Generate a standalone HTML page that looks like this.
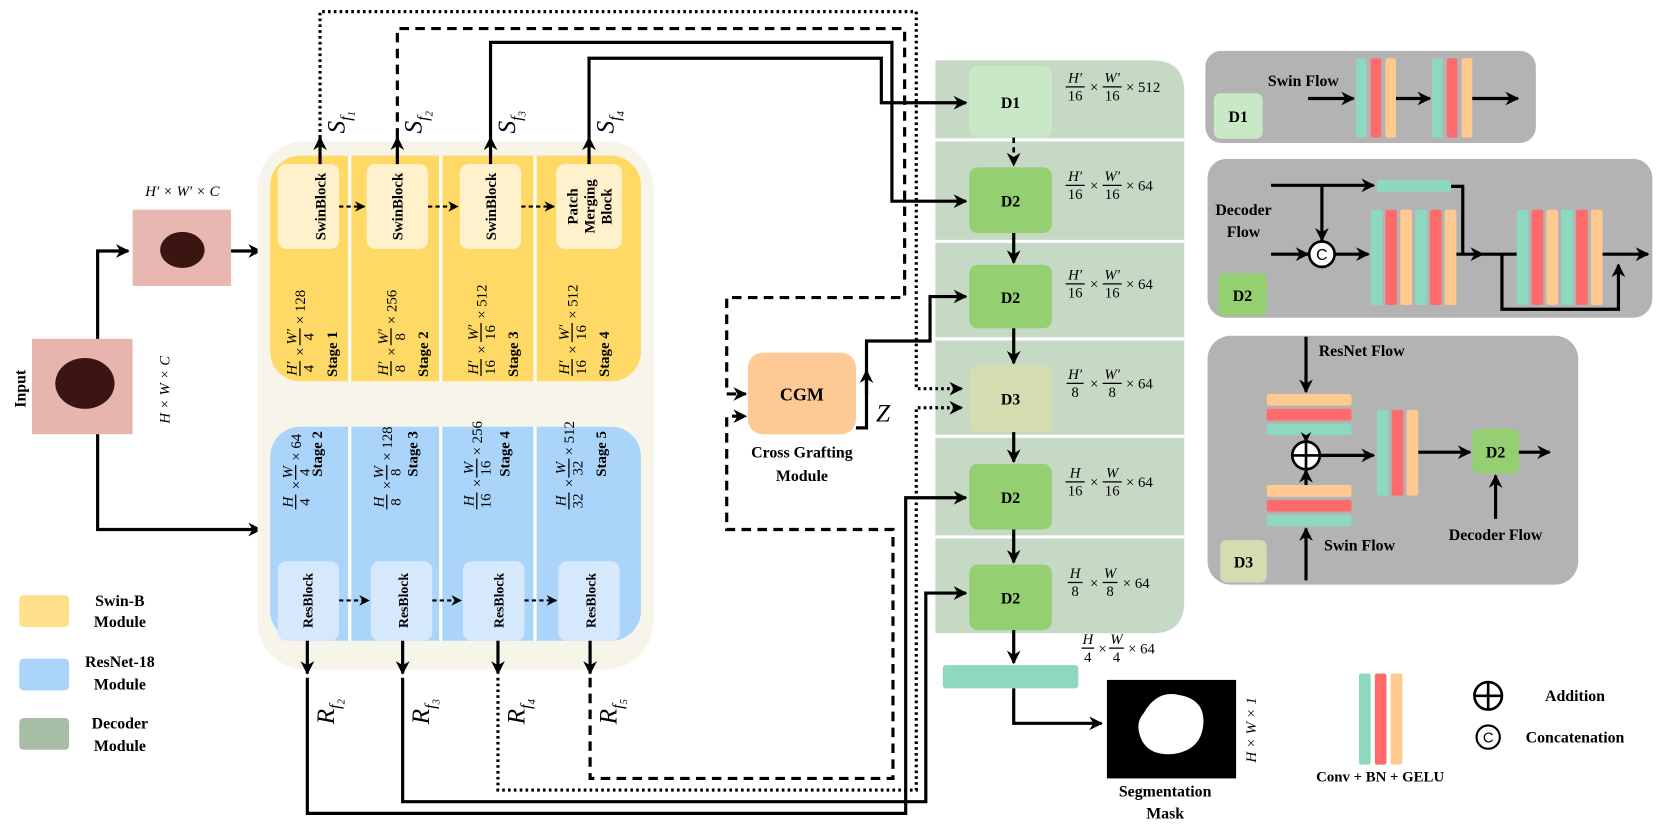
<!DOCTYPE html>
<html><head><meta charset="utf-8"><style>
html,body{margin:0;padding:0;background:#fff;}
svg{display:block;}
text{font-family:"Liberation Serif",serif;fill:#000;}
.b{font-weight:bold;}
.i{font-style:italic;}
.f{font-size:14px;}
.ln{stroke:#000;stroke-width:3;fill:none;}
.dt{stroke:#000;stroke-width:3;fill:none;stroke-dasharray:2.5 3;}
.ds{stroke:#000;stroke-width:3;fill:none;stroke-dasharray:9 6;}
.fl{stroke:#000;stroke-width:1.2;}
</style></head><body>
<svg width="1661" height="825" viewBox="0 0 1568 779" xmlns="http://www.w3.org/2000/svg">
<defs>
<marker id="a" viewBox="0 0 10 10" refX="9" refY="5" markerWidth="15" markerHeight="13" markerUnits="userSpaceOnUse" orient="auto"><path d="M0,0 L10,5 L0,10 L3,5z" fill="#000"/></marker>
<marker id="s" viewBox="0 0 10 10" refX="9" refY="5" markerWidth="11" markerHeight="10" markerUnits="userSpaceOnUse" orient="auto"><path d="M0,0 L10,5 L0,10 L3,5z" fill="#000"/></marker>
</defs>

<!-- input images -->
<rect x="30" y="320" width="95" height="90" fill="#e7b4ae"/>
<ellipse cx="80" cy="362" rx="28" ry="24" fill="#3b1511"/>
<rect x="125" y="198" width="93" height="72" fill="#e8b7b2"/>
<ellipse cx="172" cy="236" rx="21" ry="17" fill="#3b1511"/>
<text class="b" font-size="15" transform="translate(24,385) rotate(-90)">Input</text>
<text class="i" font-size="14" transform="translate(160,400) rotate(-90)">H × W × C</text>
<text class="i" font-size="14" x="172" y="185" text-anchor="middle">H′ × W′ × C</text>
<path class="ln" d="M92,320 V237 H121" marker-end="url(#a)"/>
<path class="ln" d="M218,237 H246" marker-end="url(#a)"/>
<path class="ln" d="M92,410 V500 H246" marker-end="url(#a)"/>

<!-- encoder -->
<rect x="243" y="133" width="374" height="499" rx="45" fill="#f7f4ea"/>
<rect x="255" y="147" width="350" height="213" rx="28" fill="#ffd966"/>
<rect x="255" y="403" width="350" height="202" rx="28" fill="#aad4fa"/>
<g stroke="#fff" stroke-width="3">
<line x1="330" y1="147" x2="330" y2="360"/><line x1="416" y1="147" x2="416" y2="360"/><line x1="505" y1="147" x2="505" y2="360"/>
<line x1="330" y1="403" x2="330" y2="605"/><line x1="416" y1="403" x2="416" y2="605"/><line x1="505" y1="403" x2="505" y2="605"/>
</g>
<g fill="#fff1cc">
<rect x="262" y="155" width="58" height="80" rx="8"/><rect x="346" y="155" width="58" height="80" rx="8"/>
<rect x="434" y="155" width="58" height="80" rx="8"/><rect x="525" y="155" width="62" height="80" rx="8"/>
</g>
<g class="b" font-size="14" text-anchor="middle">
<text transform="translate(307,195) rotate(-90)">SwinBlock</text>
<text transform="translate(380,195) rotate(-90)">SwinBlock</text>
<text transform="translate(468,195) rotate(-90)">SwinBlock</text>
<text transform="translate(545,195) rotate(-90)">Patch</text>
<text transform="translate(561,195) rotate(-90)">Merging</text>
<text transform="translate(577,195) rotate(-90)">Block</text>
</g>
<path class="ds" style="stroke-width:2;stroke-dasharray:4 3" d="M320,195 H344" marker-end="url(#s)"/>
<path class="ds" style="stroke-width:2;stroke-dasharray:4 3" d="M404,195 H432" marker-end="url(#s)"/>
<path class="ds" style="stroke-width:2;stroke-dasharray:4 3" d="M492,195 H523" marker-end="url(#s)"/>
<g fill="#d6e8fb">
<rect x="262" y="530" width="58" height="75" rx="8"/><rect x="350" y="530" width="58" height="75" rx="8"/>
<rect x="437" y="530" width="58" height="75" rx="8"/><rect x="527" y="530" width="58" height="75" rx="8"/>
</g>
<g class="b" font-size="13" text-anchor="middle">
<text transform="translate(295,567) rotate(-90)">ResBlock</text>
<text transform="translate(385,567) rotate(-90)">ResBlock</text>
<text transform="translate(475,567) rotate(-90)">ResBlock</text>
<text transform="translate(562,567) rotate(-90)">ResBlock</text>
</g>
<path class="ds" style="stroke-width:2;stroke-dasharray:4 3" d="M320,567 H348" marker-end="url(#s)"/>
<path class="ds" style="stroke-width:2;stroke-dasharray:4 3" d="M408,567 H435" marker-end="url(#s)"/>
<path class="ds" style="stroke-width:2;stroke-dasharray:4 3" d="M495,567 H525" marker-end="url(#s)"/>

<!-- swin stage labels -->
<g transform="translate(266,356) rotate(-90)" class="f">
<text class="i" x="8" y="14" text-anchor="middle">H′</text><line class="fl" x1="1" x2="15" y1="17" y2="17"/><text x="8" y="30" text-anchor="middle">4</text>
<text x="20" y="22">×</text>
<text class="i" x="38" y="14" text-anchor="middle">W′</text><line class="fl" x1="30" x2="46" y1="17" y2="17"/><text x="38" y="30" text-anchor="middle">4</text>
<text x="50" y="22">× 128</text>
<text class="b" font-size="14" x="0" y="52">Stage 1</text>
</g>
<g transform="translate(352,356) rotate(-90)" class="f">
<text class="i" x="8" y="14" text-anchor="middle">H′</text><line class="fl" x1="1" x2="15" y1="17" y2="17"/><text x="8" y="30" text-anchor="middle">8</text>
<text x="20" y="22">×</text>
<text class="i" x="38" y="14" text-anchor="middle">W′</text><line class="fl" x1="30" x2="46" y1="17" y2="17"/><text x="38" y="30" text-anchor="middle">8</text>
<text x="50" y="22">× 256</text>
<text class="b" font-size="14" x="0" y="52">Stage 2</text>
</g>
<g transform="translate(437,356) rotate(-90)" class="f">
<text class="i" x="9" y="14" text-anchor="middle">H′</text><line class="fl" x1="1" x2="17" y1="17" y2="17"/><text x="9" y="30" text-anchor="middle">16</text>
<text x="22" y="22">×</text>
<text class="i" x="42" y="14" text-anchor="middle">W′</text><line class="fl" x1="33" x2="51" y1="17" y2="17"/><text x="42" y="30" text-anchor="middle">16</text>
<text x="55" y="22">× 512</text>
<text class="b" font-size="14" x="0" y="52">Stage 3</text>
</g>
<g transform="translate(523,356) rotate(-90)" class="f">
<text class="i" x="9" y="14" text-anchor="middle">H′</text><line class="fl" x1="1" x2="17" y1="17" y2="17"/><text x="9" y="30" text-anchor="middle">16</text>
<text x="22" y="22">×</text>
<text class="i" x="42" y="14" text-anchor="middle">W′</text><line class="fl" x1="33" x2="51" y1="17" y2="17"/><text x="42" y="30" text-anchor="middle">16</text>
<text x="55" y="22">× 512</text>
<text class="b" font-size="14" x="0" y="52">Stage 4</text>
</g>
<!-- resnet stage labels -->
<g transform="translate(262,482) rotate(-90)" class="f">
<text class="i" x="8" y="14" text-anchor="middle">H</text><line class="fl" x1="1" x2="15" y1="17" y2="17"/><text x="8" y="30" text-anchor="middle">4</text>
<text x="20" y="22">×</text>
<text class="i" x="36" y="14" text-anchor="middle">W</text><line class="fl" x1="29" x2="43" y1="17" y2="17"/><text x="36" y="30" text-anchor="middle">4</text>
<text x="47" y="22">× 64</text>
<text class="b" font-size="14" x="75" y="42" text-anchor="end">Stage 2</text>
</g>
<g transform="translate(348,482) rotate(-90)" class="f">
<text class="i" x="8" y="14" text-anchor="middle">H</text><line class="fl" x1="1" x2="15" y1="17" y2="17"/><text x="8" y="30" text-anchor="middle">8</text>
<text x="20" y="22">×</text>
<text class="i" x="36" y="14" text-anchor="middle">W</text><line class="fl" x1="29" x2="43" y1="17" y2="17"/><text x="36" y="30" text-anchor="middle">8</text>
<text x="47" y="22">× 128</text>
<text class="b" font-size="14" x="75" y="46" text-anchor="end">Stage 3</text>
</g>
<g transform="translate(433,482) rotate(-90)" class="f">
<text class="i" x="9" y="14" text-anchor="middle">H</text><line class="fl" x1="1" x2="17" y1="17" y2="17"/><text x="9" y="30" text-anchor="middle">16</text>
<text x="22" y="22">×</text>
<text class="i" x="40" y="14" text-anchor="middle">W</text><line class="fl" x1="31" x2="49" y1="17" y2="17"/><text x="40" y="30" text-anchor="middle">16</text>
<text x="52" y="22">× 256</text>
<text class="b" font-size="14" x="75" y="48" text-anchor="end">Stage 4</text>
</g>
<g transform="translate(520,482) rotate(-90)" class="f">
<text class="i" x="9" y="14" text-anchor="middle">H</text><line class="fl" x1="1" x2="17" y1="17" y2="17"/><text x="9" y="30" text-anchor="middle">32</text>
<text x="22" y="22">×</text>
<text class="i" x="40" y="14" text-anchor="middle">W</text><line class="fl" x1="31" x2="49" y1="17" y2="17"/><text x="40" y="30" text-anchor="middle">32</text>
<text x="52" y="22">× 512</text>
<text class="b" font-size="14" x="75" y="52" text-anchor="end">Stage 5</text>
</g>

<!-- S and R arrows -->
<path class="ln" d="M302,155 V130" marker-end="url(#a)"/>
<path class="ln" d="M375,155 V130" marker-end="url(#a)"/>
<path class="ln" d="M463,155 V130" marker-end="url(#a)"/>
<path class="ln" d="M556,155 V130" marker-end="url(#a)"/>
<path class="ln" d="M290,605 V636" marker-end="url(#a)"/>
<path class="ln" d="M380,605 V636" marker-end="url(#a)"/>
<path class="ln" d="M470,605 V636" marker-end="url(#a)"/>
<path class="ln" d="M557,605 V636" marker-end="url(#a)"/>
<g class="i" font-size="24">
<text transform="translate(325,126) rotate(-90)">S<tspan font-size="15" dy="6">f</tspan><tspan font-size="10" dy="4">1</tspan></text>
<text transform="translate(398,126) rotate(-90)">S<tspan font-size="15" dy="6">f</tspan><tspan font-size="10" dy="4">2</tspan></text>
<text transform="translate(486,126) rotate(-90)">S<tspan font-size="15" dy="6">f</tspan><tspan font-size="10" dy="4">3</tspan></text>
<text transform="translate(579,126) rotate(-90)">S<tspan font-size="15" dy="6">f</tspan><tspan font-size="10" dy="4">4</tspan></text>
<text transform="translate(315,684) rotate(-90)">R<tspan font-size="15" dy="6">f</tspan><tspan font-size="10" dy="4">2</tspan></text>
<text transform="translate(405,684) rotate(-90)">R<tspan font-size="15" dy="6">f</tspan><tspan font-size="10" dy="4">3</tspan></text>
<text transform="translate(495,684) rotate(-90)">R<tspan font-size="15" dy="6">f</tspan><tspan font-size="10" dy="4">4</tspan></text>
<text transform="translate(582,684) rotate(-90)">R<tspan font-size="15" dy="6">f</tspan><tspan font-size="10" dy="4">5</tspan></text>
</g>

<!-- decoder column -->
<path d="M883,57 H1088 Q1118,57 1118,87 V568 Q1118,598 1088,598 H883 Z" fill="#c6d9c5"/>
<g stroke="#fff" stroke-width="3">
<line x1="883" x2="1118" y1="132" y2="132"/><line x1="883" x2="1118" y1="228" y2="228"/>
<line x1="883" x2="1118" y1="320" y2="320"/><line x1="883" x2="1118" y1="412" y2="412"/>
<line x1="883" x2="1118" y1="507" y2="507"/>
</g>
<rect x="915" y="62" width="78" height="68" rx="8" fill="#c9e8c5"/>
<rect x="915" y="158" width="78" height="62" rx="8" fill="#94cf72"/>
<rect x="915" y="250" width="78" height="60" rx="8" fill="#94cf72"/>
<rect x="915" y="345" width="78" height="63" rx="8" fill="#d4dcb0"/>
<rect x="915" y="438" width="78" height="62" rx="8" fill="#94cf72"/>
<rect x="915" y="533" width="78" height="62" rx="8" fill="#94cf72"/>
<g class="b" font-size="15" text-anchor="middle">
<text x="954" y="102">D1</text><text x="954" y="195">D2</text><text x="954" y="286">D2</text>
<text x="954" y="382">D3</text><text x="954" y="475">D2</text><text x="954" y="570">D2</text>
</g>
<path class="ds" style="stroke-dasharray:5 4;stroke-width:2.5" d="M957,130 V156" marker-end="url(#a)"/>
<path class="ln" d="M957,220 V248" marker-end="url(#a)"/>
<path class="ln" d="M957,310 V343" marker-end="url(#a)"/>
<path class="ln" d="M957,408 V436" marker-end="url(#a)"/>
<path class="ln" d="M957,500 V531" marker-end="url(#a)"/>
<path class="ln" d="M957,595 V626" marker-end="url(#a)"/>

<!-- decoder dims -->
<g class="f">
<g transform="translate(1005,82)">
<text class="i" x="10" y="-4" text-anchor="middle">H′</text><line class="fl" x1="1" x2="19" y1="0" y2="0"/><text x="10" y="13" text-anchor="middle">16</text>
<text x="24" y="5">×</text>
<text class="i" x="45" y="-4" text-anchor="middle">W′</text><line class="fl" x1="36" x2="54" y1="0" y2="0"/><text x="45" y="13" text-anchor="middle">16</text>
<text x="58" y="5">× 512</text></g>
<g transform="translate(1005,175)">
<text class="i" x="10" y="-4" text-anchor="middle">H′</text><line class="fl" x1="1" x2="19" y1="0" y2="0"/><text x="10" y="13" text-anchor="middle">16</text>
<text x="24" y="5">×</text>
<text class="i" x="45" y="-4" text-anchor="middle">W′</text><line class="fl" x1="36" x2="54" y1="0" y2="0"/><text x="45" y="13" text-anchor="middle">16</text>
<text x="58" y="5">× 64</text></g>
<g transform="translate(1005,268)">
<text class="i" x="10" y="-4" text-anchor="middle">H′</text><line class="fl" x1="1" x2="19" y1="0" y2="0"/><text x="10" y="13" text-anchor="middle">16</text>
<text x="24" y="5">×</text>
<text class="i" x="45" y="-4" text-anchor="middle">W′</text><line class="fl" x1="36" x2="54" y1="0" y2="0"/><text x="45" y="13" text-anchor="middle">16</text>
<text x="58" y="5">× 64</text></g>
<g transform="translate(1005,362)">
<text class="i" x="10" y="-4" text-anchor="middle">H′</text><line class="fl" x1="2" x2="18" y1="0" y2="0"/><text x="10" y="13" text-anchor="middle">8</text>
<text x="24" y="5">×</text>
<text class="i" x="45" y="-4" text-anchor="middle">W′</text><line class="fl" x1="36" x2="54" y1="0" y2="0"/><text x="45" y="13" text-anchor="middle">8</text>
<text x="58" y="5">× 64</text></g>
<g transform="translate(1005,455)">
<text class="i" x="10" y="-4" text-anchor="middle">H</text><line class="fl" x1="1" x2="19" y1="0" y2="0"/><text x="10" y="13" text-anchor="middle">16</text>
<text x="24" y="5">×</text>
<text class="i" x="45" y="-4" text-anchor="middle">W</text><line class="fl" x1="36" x2="54" y1="0" y2="0"/><text x="45" y="13" text-anchor="middle">16</text>
<text x="58" y="5">× 64</text></g>
<g transform="translate(1005,550)">
<text class="i" x="10" y="-4" text-anchor="middle">H</text><line class="fl" x1="3" x2="17" y1="0" y2="0"/><text x="10" y="13" text-anchor="middle">8</text>
<text x="24" y="5">×</text>
<text class="i" x="43" y="-4" text-anchor="middle">W</text><line class="fl" x1="36" x2="50" y1="0" y2="0"/><text x="43" y="13" text-anchor="middle">8</text>
<text x="55" y="5">× 64</text></g>
<g transform="translate(1020,612)">
<text class="i" x="7" y="-4" text-anchor="middle">H</text><line class="fl" x1="1" x2="13" y1="0" y2="0"/><text x="7" y="13" text-anchor="middle">4</text>
<text x="17" y="5">×</text>
<text class="i" x="34" y="-4" text-anchor="middle">W</text><line class="fl" x1="27" x2="41" y1="0" y2="0"/><text x="34" y="13" text-anchor="middle">4</text>
<text x="45" y="5">× 64</text></g>
</g>

<!-- bottom output -->
<rect x="890" y="628" width="128" height="22" rx="3" fill="#8dd8bf"/>
<path class="ln" d="M957,650 V683 H1040" marker-end="url(#a)"/>
<rect x="1045" y="642" width="122" height="93" fill="#000"/>
<path d="M1080,673 Q1092,652 1112,656 Q1138,660 1136,684 Q1134,708 1108,712 Q1082,714 1076,694 Q1072,682 1080,673Z" fill="#fff"/>
<text class="i" font-size="14" transform="translate(1186,720) rotate(-90)">H × W × 1</text>
<text class="b" font-size="15" x="1100" y="752" text-anchor="middle">Segmentation</text>
<text class="b" font-size="15" x="1100" y="773" text-anchor="middle">Mask</text>

<!-- CGM -->
<rect x="706" y="333" width="102" height="77" rx="14" fill="#fdca95"/>
<text class="b" font-size="17" x="757" y="378" text-anchor="middle">CGM</text>
<text class="b" font-size="15" x="757" y="432" text-anchor="middle">Cross Grafting</text>
<text class="b" font-size="15" x="757" y="454" text-anchor="middle">Module</text>
<path class="ln" d="M808,404 H818 V322 H878 V280 H912" marker-end="url(#a)"/>
<path class="ln" d="M818,372 V350" marker-end="url(#a)"/>
<text class="i" font-size="24" x="827" y="398">Z</text>

<!-- long connectors -->
<path class="dt" d="M302,130 V11 H865 V367 H908" marker-end="url(#a)"/>
<path class="ds" d="M375,130 V27 H854 V281 H686 V372 H704" marker-end="url(#a)"/>
<path class="ln" d="M463,130 V40 H842 V190 H912" marker-end="url(#a)"/>
<path class="ln" d="M556,130 V55 H832 V97 H912" marker-end="url(#a)"/>
<path class="ds" d="M557,640 V735 H843 V500 H686 V393 H704" marker-end="url(#a)"/>
<path class="dt" d="M470,640 V746 H865 V385 H908" marker-end="url(#a)"/>
<path class="ln" d="M290,640 V768 H855 V470 H912" marker-end="url(#a)"/>
<path class="ln" d="M380,640 V757 H874 V560 H912" marker-end="url(#a)"/>

<!-- panel D1 -->
<rect x="1138" y="48" width="312" height="87" rx="15" fill="#b3b3b3"/>
<rect x="1146" y="88" width="46" height="43" rx="6" fill="#c9e8c5"/>
<text class="b" font-size="15" x="1169" y="115" text-anchor="middle">D1</text>
<text class="b" font-size="15" x="1197" y="81">Swin Flow</text>
<path class="ln" d="M1235,93 H1278" marker-end="url(#a)"/>
<rect x="1280" y="55" width="10" height="75" rx="2" fill="#8dd8bf"/><rect x="1294" y="55" width="10" height="75" rx="2" fill="#ff6b6b"/><rect x="1308" y="55" width="10" height="75" rx="2" fill="#ffc990"/>
<path class="ln" d="M1318,93 H1350" marker-end="url(#a)"/>
<rect x="1352" y="55" width="10" height="75" rx="2" fill="#8dd8bf"/><rect x="1366" y="55" width="10" height="75" rx="2" fill="#ff6b6b"/><rect x="1380" y="55" width="10" height="75" rx="2" fill="#ffc990"/>
<path class="ln" d="M1390,93 H1433" marker-end="url(#a)"/>

<!-- panel D2 -->
<rect x="1140" y="150" width="420" height="150" rx="18" fill="#b3b3b3"/>
<rect x="1150" y="258" width="46" height="40" rx="6" fill="#94cf72"/>
<text class="b" font-size="15" x="1173" y="284" text-anchor="middle">D2</text>
<text class="b" font-size="15" x="1174" y="203" text-anchor="middle">Decoder</text>
<text class="b" font-size="15" x="1174" y="224" text-anchor="middle">Flow</text>
<path class="ln" d="M1200,175 H1297" marker-end="url(#a)"/>
<rect x="1300" y="170" width="70" height="11" rx="2" fill="#8dd8bf"/>
<path class="ln" d="M1370,176 H1381 V240"/>
<path class="ln" d="M1248,175 V227" marker-end="url(#a)"/>
<circle cx="1248" cy="240" r="12" fill="#fff" stroke="#000" stroke-width="2.5"/>
<text font-size="15" x="1248" y="245.5" text-anchor="middle" style="font-family:'Liberation Sans',sans-serif">C</text>
<path class="ln" d="M1200,240 H1235" marker-end="url(#a)"/>
<path class="ln" d="M1260,240 H1292" marker-end="url(#a)"/>
<g>
<rect x="1294" y="198" width="11" height="90" rx="2" fill="#8dd8bf"/><rect x="1308" y="198" width="11" height="90" rx="2" fill="#ff6b6b"/><rect x="1322" y="198" width="11" height="90" rx="2" fill="#ffc990"/>
<rect x="1336" y="198" width="11" height="90" rx="2" fill="#8dd8bf"/><rect x="1350" y="198" width="11" height="90" rx="2" fill="#ff6b6b"/><rect x="1364" y="198" width="11" height="90" rx="2" fill="#ffc990"/>
</g>
<path class="ln" d="M1375,240 H1400" marker-end="url(#a)"/>
<path class="ln" d="M1400,240 H1432"/>
<path class="ln" d="M1418,240 V292 H1528 V250" marker-end="url(#a)"/>
<g>
<rect x="1432" y="198" width="11" height="90" rx="2" fill="#8dd8bf"/><rect x="1446" y="198" width="11" height="90" rx="2" fill="#ff6b6b"/><rect x="1460" y="198" width="11" height="90" rx="2" fill="#ffc990"/>
<rect x="1474" y="198" width="11" height="90" rx="2" fill="#8dd8bf"/><rect x="1488" y="198" width="11" height="90" rx="2" fill="#ff6b6b"/><rect x="1502" y="198" width="11" height="90" rx="2" fill="#ffc990"/>
</g>
<path class="ln" d="M1513,240 H1556" marker-end="url(#a)"/>

<!-- panel D3 -->
<rect x="1140" y="317" width="350" height="235" rx="22" fill="#b3b3b3"/>
<rect x="1152" y="510" width="44" height="40" rx="6" fill="#d4dcb0"/>
<text class="b" font-size="15" x="1174" y="536" text-anchor="middle">D3</text>
<text class="b" font-size="15" x="1245" y="336">ResNet Flow</text>
<path class="ln" d="M1233,318 V370" marker-end="url(#a)"/>
<rect x="1196" y="372" width="80" height="11" rx="2" fill="#ffc990"/><rect x="1196" y="386" width="80" height="11" rx="2" fill="#ff6b6b"/><rect x="1196" y="400" width="80" height="11" rx="2" fill="#8dd8bf"/>
<path class="ln" d="M1233,411 V417" marker-end="url(#s)"/>
<circle cx="1233" cy="430" r="13" fill="#fff" stroke="#000" stroke-width="2.5"/>
<path d="M1220,430 H1246 M1233,417 V443" stroke="#000" stroke-width="2.5"/>
<rect x="1196" y="458" width="80" height="11" rx="2" fill="#ffc990"/><rect x="1196" y="472" width="80" height="11" rx="2" fill="#ff6b6b"/><rect x="1196" y="486" width="80" height="11" rx="2" fill="#8dd8bf"/>
<path class="ln" d="M1233,458 V444" marker-end="url(#a)"/>
<path class="ln" d="M1233,548 V499" marker-end="url(#a)"/>
<text class="b" font-size="15" x="1250" y="520">Swin Flow</text>
<path class="ln" d="M1246,430 H1297" marker-end="url(#a)"/>
<rect x="1300" y="387" width="11" height="81" rx="2" fill="#8dd8bf"/><rect x="1314" y="387" width="11" height="81" rx="2" fill="#ff6b6b"/><rect x="1328" y="387" width="11" height="81" rx="2" fill="#ffc990"/>
<path class="ln" d="M1339,427 H1388" marker-end="url(#a)"/>
<rect x="1390" y="405" width="44" height="42" rx="6" fill="#94cf72"/>
<text class="b" font-size="15" x="1412" y="432" text-anchor="middle">D2</text>
<path class="ln" d="M1434,427 H1463" marker-end="url(#a)"/>
<path class="ln" d="M1412,490 V449" marker-end="url(#a)"/>
<text class="b" font-size="15" x="1412" y="510" text-anchor="middle">Decoder Flow</text>

<!-- legends -->
<rect x="18" y="562" width="47" height="30" rx="4" fill="#ffe08a"/>
<text class="b" font-size="15" x="113" y="572" text-anchor="middle">Swin-B</text>
<text class="b" font-size="15" x="113" y="592" text-anchor="middle">Module</text>
<rect x="18" y="622" width="47" height="30" rx="4" fill="#aad4fa"/>
<text class="b" font-size="15" x="113" y="630" text-anchor="middle">ResNet-18</text>
<text class="b" font-size="15" x="113" y="651" text-anchor="middle">Module</text>
<rect x="18" y="678" width="47" height="30" rx="4" fill="#a8bea6"/>
<text class="b" font-size="15" x="113" y="688" text-anchor="middle">Decoder</text>
<text class="b" font-size="15" x="113" y="709" text-anchor="middle">Module</text>

<rect x="1283" y="636" width="11" height="86" rx="2" fill="#8dd8bf"/><rect x="1298" y="636" width="11" height="86" rx="2" fill="#ff6b6b"/><rect x="1313" y="636" width="11" height="86" rx="2" fill="#ffc990"/>
<text class="b" font-size="14" x="1303" y="738" text-anchor="middle">Conv + BN + GELU</text>
<circle cx="1405" cy="657" r="13" fill="#fff" stroke="#000" stroke-width="2.5"/>
<path d="M1392,657 H1418 M1405,644 V670" stroke="#000" stroke-width="2.5"/>
<text class="b" font-size="15" x="1487" y="662" text-anchor="middle">Addition</text>
<circle cx="1405" cy="696" r="11" fill="#fff" stroke="#000" stroke-width="2"/>
<text x="1405" y="701" font-size="14" text-anchor="middle" style="font-family:'Liberation Sans',sans-serif">C</text>
<text class="b" font-size="15" x="1487" y="701" text-anchor="middle">Concatenation</text>
</svg>
</body></html>
